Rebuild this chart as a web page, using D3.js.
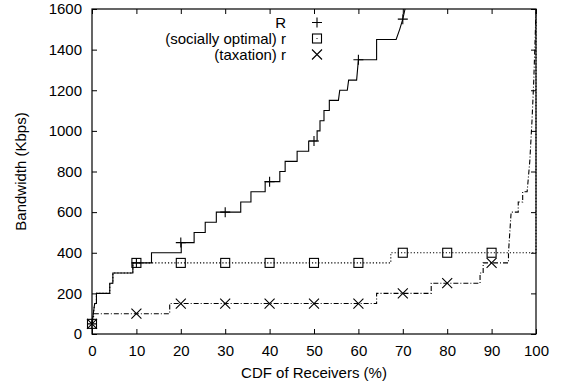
<!DOCTYPE html>
<html><head><meta charset="utf-8">
<script src="https://cdn.jsdelivr.net/npm/d3@7"></script>
<style>body{margin:0;background:#fff}svg{display:block}text{font-family:"Liberation Sans",Arial,sans-serif;font-size:15px;fill:#000}</style>
</head><body><svg id="c" width="561" height="386"></svg>
<script>
// Data (percent of receivers, bandwidth Kbps)
const xTicks = [0,10,20,30,40,50,60,70,80,90,100];
const yTicks = [0,200,400,600,800,1000,1200,1400,1600];
const seriesNames = ["R", "(socially optimal) r", "(taxation) r"];
const R_x = [0,0.3,0.6,1,1,4,4,4.7,4.7,9.2,9.2,13.4,13.4,20.1,20.1,23,23,25.5,25.5,28,28,33.5,33.5,35.8,35.8,39,39,42.3,42.3,43.5,43.5,46.2,46.2,48.8,48.8,50.7,50.7,51.35,51.35,52.25,52.25,53.45,53.45,55.5,55.8,57.5,57.8,59.6,60,64.1,64.1,68.5,69.3,70,70.5];
const R_y = [50,100,150,150,200,200,250,250,300,300,350,350,400,400,450,450,500,500,550,550,600,600,650,650,700,700,750,750,800,800,850,850,900,900,950,950,1000,1000,1050,1050,1100,1100,1150,1150,1200,1200,1250,1250,1350,1350,1450,1450,1500,1550,1600];
const R_mx = [0,10,20,30,40,50,60,70];
const R_my = [50,350,450,600,750,950,1350,1550];
const S_x = [0,0.3,0.6,1,1,4,4,4.7,4.7,9.2,9.2,67.3,67.3,100,100];
const S_y = [50,100,150,150,200,200,250,250,300,300,350,350,400,400,1600];
const S_mx = [0,10,20,30,40,50,60,70,80,90];
const S_my = [50,350,350,350,350,350,350,400,400,400];
const T_x = [0,0.5,17.5,17.5,64.1,64.1,76.4,76.4,87.4,87.4,88.1,88.1,93.8,93.8,94.1,94.4,96,96,97,97,98,98.6,99.1,99.5,99.8,100];
const T_y = [50,100,100,150,150,200,200,250,250,300,300,350,350,400,500,600,600,650,650,700,700,850,1050,1250,1450,1600];
const T_mx = [0,10,20,30,40,50,60,70,80,90];
const T_my = [50,100,150,150,150,150,150,200,250,350];

const svg = d3.select("#c");
const L=92,Rr=536,T=9,B=334;
const FS=14;
const x = d3.scaleLinear().domain([0,100]).range([L,Rr]);
const y = d3.scaleLinear().domain([0,1600]).range([B,T]);

// axes with inward ticks
const ax = d3.axisBottom(x).tickValues(xTicks).tickSize(-5).tickPadding(11).tickFormat(d3.format("d"));
const ay = d3.axisLeft(y).tickValues(yTicks).tickSize(-5).tickPadding(10).tickFormat(d3.format("d"));
const gx = svg.append("g").attr("transform",`translate(0,${B})`).call(ax);
const gy = svg.append("g").attr("transform",`translate(${L},0)`).call(ay);
const gx2 = svg.append("g").attr("transform",`translate(0,${T})`).call(d3.axisTop(x).tickValues(xTicks).tickSize(-5).tickFormat(""));
const gy2 = svg.append("g").attr("transform",`translate(${Rr},0)`).call(d3.axisRight(y).tickValues(yTicks).tickSize(-5).tickFormat(""));
[gx,gy,gx2,gy2].forEach(g=>{g.select(".domain").remove();g.selectAll("line").attr("stroke","#000");g.selectAll("text").attr("font-size",FS).attr("font-family","Liberation Sans, Arial, sans-serif").attr("fill","#000");});
svg.append("rect").attr("x",L).attr("y",T).attr("width",Rr-L).attr("height",B-T).attr("fill","none").attr("stroke","#000").attr("stroke-width",1.2);

svg.append("text").attr("x",(L+Rr)/2).attr("y",378).attr("text-anchor","middle").text("CDF of Receivers (%)");
svg.append("text").attr("transform",`translate(26,${(T+B)/2}) rotate(-90)`).attr("text-anchor","middle").text("Bandwidth (Kbps)");

const line = d3.line().x(d=>x(d[0])).y(d=>y(d[1]));
function zip(a,b){return a.map((v,i)=>[v,b[i]]);}
const pg = svg.append("g");
pg.append("path").datum(zip(R_x,R_y)).attr("d",line).attr("fill","none").attr("stroke","#000").attr("stroke-width",1.1);
pg.append("path").datum(zip(S_x,S_y)).attr("d",line).attr("fill","none").attr("stroke","#000").attr("stroke-width",1.1).attr("stroke-dasharray","1.2,2");
pg.append("path").datum(zip(T_x,T_y)).attr("d",line).attr("fill","none").attr("stroke","#000").attr("stroke-width",1.1).attr("stroke-dasharray","5,2,1,2");

function plus(g,cx,cy){g.append("path").attr("d",`M${cx-5},${cy}H${cx+5}M${cx},${cy-5}V${cy+5}`).attr("stroke","#000").attr("stroke-width",1.1).attr("fill","none");}
function box(g,cx,cy,dot){g.append("rect").attr("x",cx-4.5).attr("y",cy-4.5).attr("width",9).attr("height",9).attr("fill","none").attr("stroke","#000").attr("stroke-width",1.1);
  if(dot) g.append("rect").attr("x",cx-0.5).attr("y",cy-0.5).attr("width",1).attr("height",1).attr("fill","#000");}
function cross(g,cx,cy){g.append("path").attr("d",`M${cx-5},${cy-5}L${cx+5},${cy+5}M${cx-5},${cy+5}L${cx+5},${cy-5}`).attr("stroke","#000").attr("stroke-width",1.1).attr("fill","none");}
R_mx.forEach((v,i)=>plus(pg,x(v),y(R_my[i])));
S_mx.forEach((v,i)=>box(pg,x(v),y(S_my[i]),false));
T_mx.forEach((v,i)=>cross(pg,x(v),y(T_my[i])));

// legend
const lg = svg.append("g");
const ly=[22.5,38.5,54.5];
seriesNames.forEach((n,i)=>{lg.append("text").attr("x",286).attr("y",ly[i]+5).attr("text-anchor","end").attr("font-size",14).text(n);});
plus(lg,317,ly[0]); box(lg,317,ly[1],true); cross(lg,317,ly[2]);
</script></body></html>
